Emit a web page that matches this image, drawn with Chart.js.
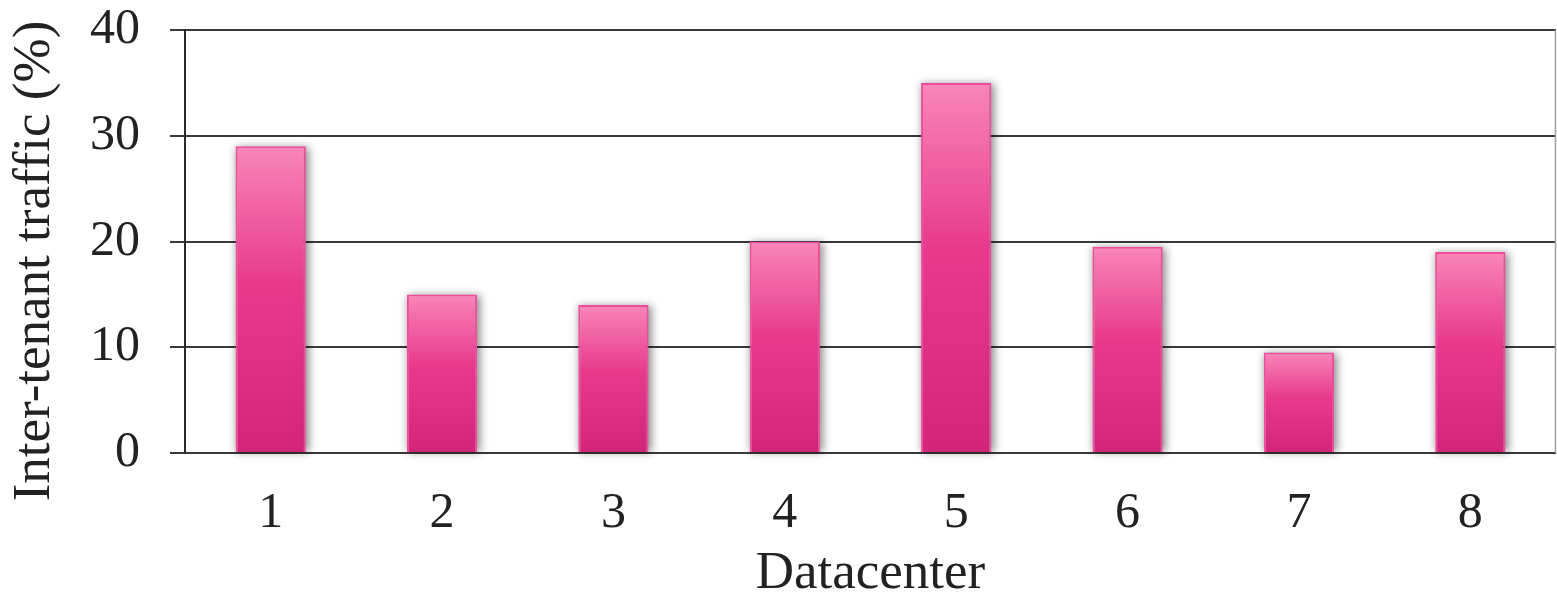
<!DOCTYPE html>
<html lang="en">
<head>
    <meta charset="UTF-8">
    <title>Inter-tenant traffic</title>
    <script src="https://cdn.jsdelivr.net/npm/chart.js"></script>
    <style>
        body {
            margin: 0;
            padding: 0;
            background: #fff;
        }
        .wrap {
            width: 1557px;
            height: 606px;
        }
    </style>
</head>
<body>
<div class="wrap">
    <canvas id="myChart"></canvas>
</div>
<script>
    // данные
    var datacenters = ['1', '2', '3', '4', '5', '6', '7', '8'];
    var traffic = [29, 15, 14, 20, 35, 19.5, 9.5, 19];
    var yTicks = [0, 10, 20, 30, 40];
    var yTitle = 'Inter-tenant traffic (%)';

    var fontFamily = "'Liberation Serif', 'Times New Roman', serif";

    // градиент для каждого столбца
    function barGradient(context) {
        var chart = context.chart;
        if (!chart.chartArea) return '#e0358a';
        var y = chart.scales.y;
        var top = y.getPixelForValue(context.raw);
        var bottom = y.getPixelForValue(0);
        var g = chart.ctx.createLinearGradient(0, top, 0, bottom);
        g.addColorStop(0, '#f986b6');
        g.addColorStop(0.45, '#e8398d');
        g.addColorStop(1, '#d2257a');
        return g;
    }

    // тень под столбцами, правая рамка и подпись оси Y
    var extrasPlugin = {
        id: 'extras',
        beforeDatasetsDraw: function(chart) {
            var ctx = chart.ctx;
            var meta = chart.getDatasetMeta(0);
            ctx.save();
            ctx.filter = 'blur(4px)';
            ctx.fillStyle = 'rgba(0, 0, 0, 0.45)';
            meta.data.forEach(function(bar) {
                var p = bar.getProps(['x', 'y', 'base', 'width'], true);
                ctx.fillRect(p.x - p.width / 2 + 1, p.y + 1, p.width + 2, p.base - p.y - 1);
            });
            ctx.restore();
        },
        afterDraw: function(chart) {
            var a = chart.chartArea;
            var ctx = chart.ctx;
            ctx.save();
            ctx.strokeStyle = '#a0a0a0';
            ctx.lineWidth = 1.5;
            ctx.beginPath();
            ctx.moveTo(a.right - 0.5, a.top);
            ctx.lineTo(a.right - 0.5, a.bottom);
            ctx.stroke();

            // подпись оси Y (смещена ниже центра, как в оригинале)
            ctx.translate(35, 261);
            ctx.rotate(-Math.PI / 2);
            ctx.fillStyle = '#222';
            ctx.font = '53px ' + fontFamily;
            ctx.textAlign = 'center';
            ctx.textBaseline = 'middle';
            ctx.fillText(yTitle, 0, 0);
            ctx.restore();
        }
    };

    var ctx = document.getElementById('myChart').getContext('2d');
    var myChart = new Chart(ctx, {
        type: 'bar',
        data: {
            labels: datacenters,
            datasets: [{
                label: 'Inter-tenant traffic',
                data: traffic,
                backgroundColor: barGradient,
                borderColor: '#f04c9c',
                borderWidth: 2,
                borderSkipped: 'bottom',
                barPercentage: 0.41,
                categoryPercentage: 1.0
            }]
        },
        options: {
            responsive: true,
            maintainAspectRatio: false,
            animation: false,
            layout: {
                padding: { top: 30, right: 1, left: 0, bottom: 0 }
            },
            plugins: {
                legend: { display: false },
                tooltip: { enabled: false }
            },
            scales: {
                x: {
                    afterFit: function(axis) { axis.height = 153; },
                    grid: { display: false },
                    border: { display: false },
                    ticks: {
                        color: '#222',
                        padding: 23,
                        font: { family: fontFamily, size: 50 }
                    },
                    title: {
                        display: true,
                        text: 'Datacenter',
                        color: '#222',
                        padding: { top: 0, bottom: 0 },
                        font: { family: fontFamily, size: 53 }
                    }
                },
                y: {
                    min: 0,
                    max: 40,
                    afterFit: function(axis) {
                        axis.width = 185;
                        axis.paddingTop = 0;
                        axis.paddingBottom = 0;
                    },
                    afterBuildTicks: function(axis) {
                        axis.ticks = yTicks.map(function(v) { return { value: v }; });
                    },
                    grid: {
                        color: '#3a3a3a',
                        lineWidth: 2,
                        tickLength: 15,
                        drawTicks: true
                    },
                    border: { display: true, color: '#2a2a2a', width: 2 },
                    ticks: {
                        color: '#222',
                        padding: 30,
                        font: { family: fontFamily, size: 50 }
                    }
                }
            }
        },
        plugins: [extrasPlugin]
    });
</script>
</body>
</html>
